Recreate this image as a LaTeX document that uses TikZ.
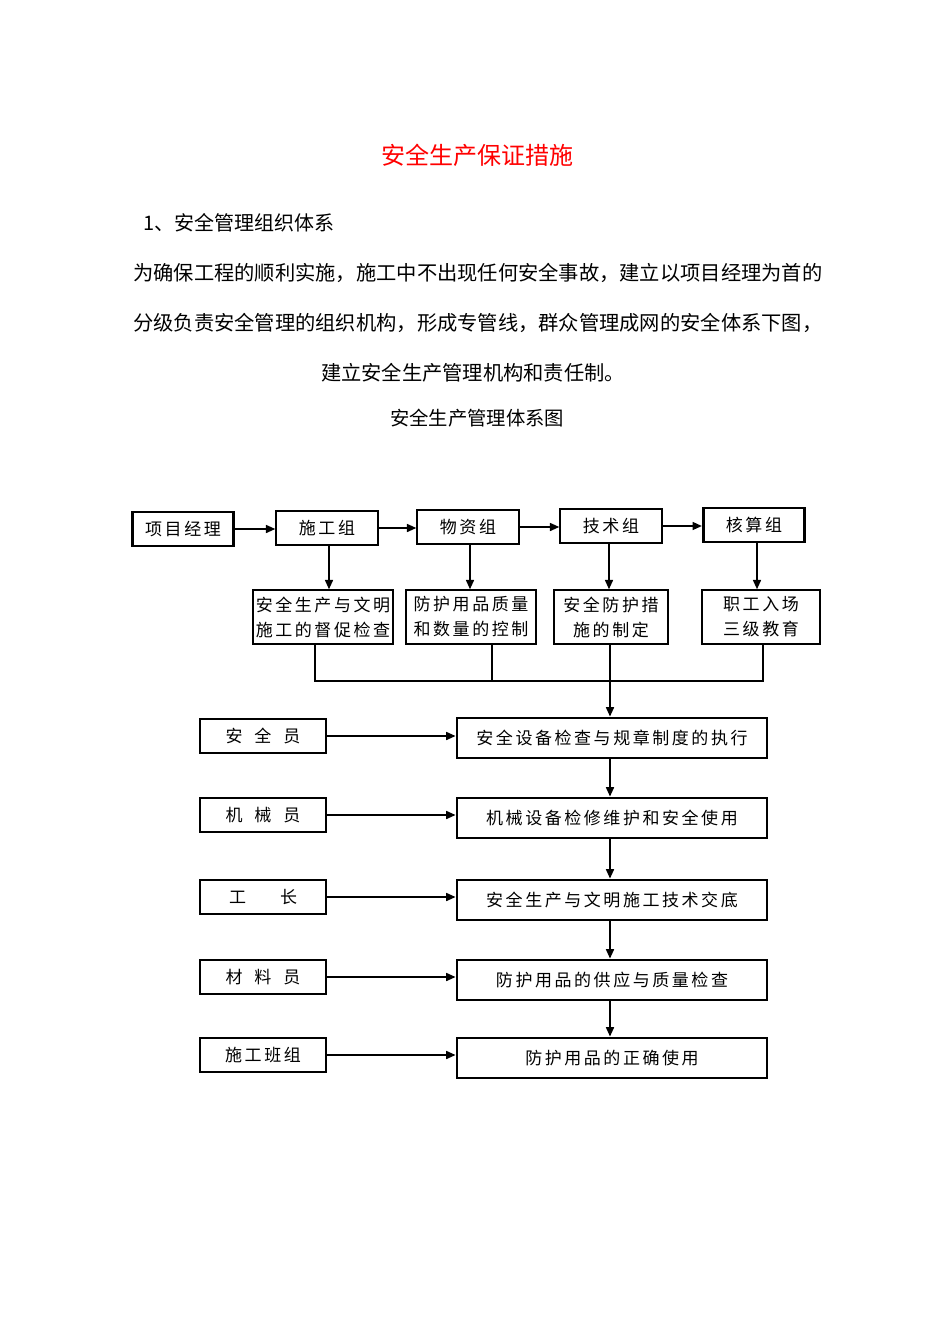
\documentclass[tikz,border=0pt]{standalone}
\usepackage{fontspec}
\usepackage{tikz}
\usetikzlibrary{arrows.meta}
\setmainfont{Noto Sans CJK SC}
\newfontfamily\boxfont[LetterSpace=15]{Noto Sans CJK SC}

\begin{document}
\begin{tikzpicture}[x=0.75pt, y=-0.75pt,
    box/.style={draw=black, line width=1.6pt, inner sep=0pt, align=center,
      font=\boxfont\fontsize{12.75}{18.75}\selectfont},
    thickbox/.style={box, line width=2.2pt},
    topbox/.style={box, minimum width=76pt, minimum height=25.5pt},
    duty/.style={box, minimum height=40pt},
    staff/.style={box, line width=2pt, minimum width=94.5pt, minimum height=25.5pt},
    task/.style={box, line width=2.2pt, minimum width=232.5pt, minimum height=30pt},
    arr/.style={-{Triangle[length=7pt, width=6pt]}, line width=1.2pt},
    bus/.style={line width=1.6pt},
    para/.style={inner sep=0pt, font=\fontsize{15.2}{18}\selectfont}]
  \fill[white] (0,0) rectangle (950,1344);
  \useasboundingbox (0,0) rectangle (950,1344);

  % heading and text
  \node[inner sep=0pt, text=red, font=\fontsize{18}{20}\selectfont] (title) at (477,155) {安全生产保证措施};
  \node[para, anchor=west, font=\fontsize{15}{18}\selectfont] (sec) at (143,223) {1、安全管理组织体系};
  \node[para, anchor=west] (line1) at (133,273) {为确保工程的顺利实施，施工中不出现任何安全事故，建立以项目经理为首的};
  \node[para, anchor=west] (line2) at (133,323) {分级负责安全管理的组织机构，形成专管线，群众管理成网的安全体系下图，};
  \node[para] (line3) at (473,373) {建立安全生产管理机构和责任制。};
  \node[para, font=\fontsize{14.5}{18}\selectfont] (figname) at (477,418) {安全生产管理体系图};

  % top row
  \node[topbox, thickbox] (pm)  at (183,529) {项目经理};
  \node[topbox] (cons) at (327,528) {施工组};
  \node[topbox] (mat)  at (468,527) {物资组};
  \node[topbox] (tech) at (611,526) {技术组};
  \node[topbox, thickbox] (acc)  at (754,525) {核算组};

  \draw[arr] (pm.east) -- (pm.east -| cons.west);
  \draw[arr] (cons.east) -- (cons.east -| mat.west);
  \draw[arr] (mat.east) -- (mat.east -| tech.west);
  \draw[arr] (tech.east) -- (tech.east -| acc.west);

  % second row
  \node[duty, minimum width=105pt] (supv) at (323,617) {安全生产与文明\\施工的督促检查};
  \node[duty, minimum width=98pt]  (ctrl) at (471,617) {防护用品质量\\和数量的控制};
  \node[duty, minimum width=86pt]  (meas) at (611,617) {安全防护措\\施的制定};
  \node[duty, minimum width=88pt]  (edu)  at (761,617) {职工入场\\三级教育};

  \draw[arr] (cons.south -| 329,0) -- (supv.north -| 329,0);
  \draw[arr] (mat.south -| 470,0)  -- (ctrl.north -| 470,0);
  \draw[arr] (tech.south -| 609,0) -- (meas.north -| 609,0);
  \draw[arr] (acc.south -| 757,0)  -- (edu.north -| 757,0);

  % collecting line
  \coordinate (b1) at (315,681);
  \coordinate (b2) at (492,681);
  \coordinate (b3) at (610,681);
  \coordinate (b4) at (763,681);
  \draw[bus] (b1 |- supv.south) -- (b1) -- (b4) -- (b4 |- edu.south);
  \draw[line width=0.8pt] (b2 |- ctrl.south) -- (b2);
  \draw[bus] (b3 |- meas.south) -- (b3);

  % staff and tasks
  \node[staff] (s1) at (263,736)  {安\hspace{0.7em}全\hspace{0.7em}员};
  \node[staff] (s2) at (263,815)  {机\hspace{0.7em}械\hspace{0.7em}员};
  \node[staff] (s3) at (263,897)  {工\hspace{2em}长};
  \node[staff] (s4) at (263,977)  {材\hspace{0.7em}料\hspace{0.7em}员};
  \node[staff] (s5) at (263,1055) {施工班组};

  \node[task] (t1) at (612,738)  {安全设备检查与规章制度的执行};
  \node[task] (t2) at (612,818)  {机械设备检修维护和安全使用};
  \node[task] (t3) at (612,900)  {安全生产与文明施工技术交底};
  \node[task] (t4) at (612,980)  {防护用品的供应与质量检查};
  \node[task] (t5) at (612,1058) {防护用品的正确使用};

  \draw[arr] (b3) -- (b3 |- t1.north);
  \draw[arr] (t1.south -| b3) -- (t2.north -| b3);
  \draw[arr] (t2.south -| b3) -- (t3.north -| b3);
  \draw[arr] (t3.south -| b3) -- (t4.north -| b3);
  \draw[arr] (t4.south -| b3) -- (t5.north -| b3);

  \foreach \i in {1,...,5}
    \draw[arr] (s\i.east) -- (s\i.east -| t\i.west);
\end{tikzpicture}
\end{document}
